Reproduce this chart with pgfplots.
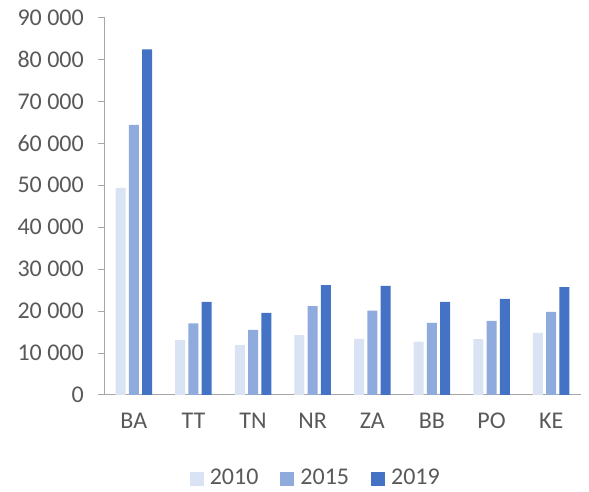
\documentclass[border=0pt]{standalone}
\usepackage{pgfplots}
\pgfplotsset{compat=1.18}
\usepackage{fontspec}
\setmainfont{Carlito}
\definecolor{c10}{HTML}{DAE3F3}
\definecolor{c15}{HTML}{8FAADC}
\definecolor{c19}{HTML}{4472C4}
\definecolor{txt}{HTML}{595959}
\definecolor{axc}{HTML}{A6A6A6}
\begin{document}
\fontsize{24pt}{28pt}\selectfont
\begin{tikzpicture}
\begin{axis}[name=ax, scale only axis, width=477pt, height=377.5pt,
  ybar=3.3pt, bar width=10pt,
  xmin=-0.5, xmax=7.5, ymin=0, ymax=90000,
  axis x line*=bottom, axis y line*=left,
  axis line style={-, draw=axc, line width=1pt},
  tick align=outside,
  xtick={0,...,7}, xticklabels={BA,TT,TN,NR,ZA,BB,PO,KE},
  x tick style={draw=none},
  extra x ticks={-0.5,0.5,...,7.5}, extra x tick labels={},
  extra x tick style={tick style={draw=axc, line width=1pt}, major tick length=6pt},
  ytick={0,10000,...,90000},
  y tick style={draw=axc, line width=1pt}, major tick length=6pt,
  scaled y ticks=false,
  /pgf/number format/.cd, 1000 sep={\ }, assume math mode=true, /pgfplots/.cd,
  ticklabel style={font=\fontsize{24pt}{28pt}\selectfont, text=txt},
  yticklabel style={xshift=-6pt},
  xticklabel style={yshift=-4pt},
  legend style={at={(axis description cs:0.444,-0.2225)}, anchor=center, draw=none,
    font=\fontsize{24pt}{28pt}\selectfont, text=txt, legend columns=3,
    /tikz/every even column/.append style={column sep=20pt}},
  legend image code/.code={\fill[#1] (0pt,-7pt) rectangle (14pt,7pt); \path (18pt,0pt);},
]
\addplot[fill=c10, draw=none] coordinates {(0,49400) (1,13100) (2,11900) (3,14300) (4,13400) (5,12700) (6,13300) (7,14800)};
\addplot[fill=c15, draw=none] coordinates {(0,64400) (1,17100) (2,15500) (3,21200) (4,20100) (5,17200) (6,17700) (7,19800)};
\addplot[fill=c19, draw=none] coordinates {(0,82400) (1,22200) (2,19600) (3,26200) (4,26000) (5,22200) (6,22900) (7,25700)};
\legend{2010,2015,2019}
\end{axis}
\pgfresetboundingbox
\path[use as bounding box] ([xshift=-104pt,yshift=-97pt]ax.south west) rectangle ([xshift=8pt,yshift=17.5pt]ax.north east);
\end{tikzpicture}
\end{document}
